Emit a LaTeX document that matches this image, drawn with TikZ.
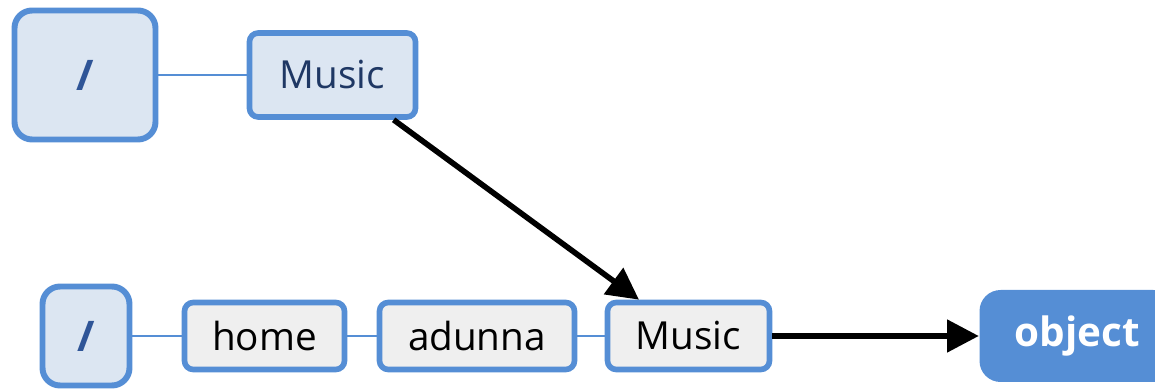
\documentclass[tikz,border=0pt]{standalone}
\usepackage{fontspec}
\setmainfont{Open Sans}
\usetikzlibrary{arrows.meta}

\definecolor{bordo}{RGB}{85,142,213}
\definecolor{azzurro}{RGB}{220,230,242}
\definecolor{grigio}{RGB}{239,239,239}
\definecolor{blu}{RGB}{31,56,100}
\definecolor{barra}{RGB}{47,85,151}

\begin{document}
\begin{tikzpicture}[>={Triangle[length=9pt,width=9pt]},
    every node/.style={font=\fontsize{11}{13}\selectfont, align=center},
    radice/.style={draw=bordo, line width=1.7pt, fill=azzurro, rounded corners=5pt, text=barra, font=\fontsize{12}{14}\selectfont\bfseries},
    cartella/.style={draw=bordo, line width=1.6pt, fill=grigio, rounded corners=2.5pt, inner sep=0pt, minimum height=0.67cm},
    legame/.style={bordo, line width=0.5pt},
    freccia/.style={->, line width=1.6pt}]

    \useasboundingbox (0,0) rectangle (11.55,3.90);

    % Percorso breve
    \node[radice, minimum width=1.41cm, minimum height=1.29cm] (root1) at (0.85,3.15) {/};
    \node[cartella, fill=azzurro, text=blu, minimum width=1.66cm, minimum height=0.84cm] (music1) at (3.325,3.15) {Music};
    \draw[legame] (root1) -- (music1);

    % Percorso completo
    \node[radice, minimum width=0.87cm, minimum height=0.99cm] (root2) at (0.86,0.54) {/};
    \node[cartella, minimum width=1.60cm] (home) at (2.645,0.54) {home};
    \node[cartella, minimum width=1.95cm] (adunna) at (4.77,0.54) {adunna};
    \node[cartella, minimum width=1.62cm] (music2) at (6.885,0.54) {Music};
    \draw[legame] (root2) -- (home);
    \draw[legame] (home) -- (adunna);
    \draw[legame] (adunna) -- (music2);

    % Oggetto
    \node[fill=bordo, rounded corners=6pt, minimum width=1.95cm, minimum height=0.92cm, text=white, font=\fontsize{11.5}{13}\selectfont\bfseries] (object) at (10.77,0.54) {object};

    % Frecce
    \draw[freccia] (music1) -- (music2);
    \draw[freccia] (music2) -- (object);

\end{tikzpicture}
\end{document}
